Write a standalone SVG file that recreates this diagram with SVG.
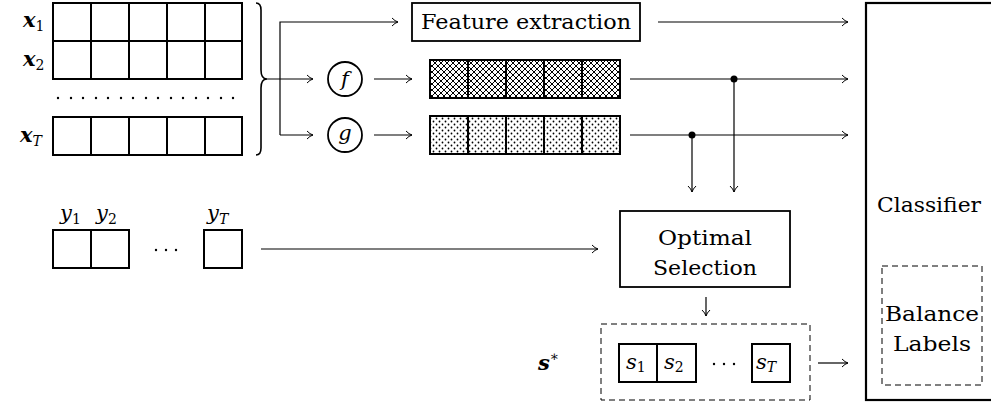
<svg xmlns="http://www.w3.org/2000/svg" width="991" height="403" viewBox="0 0 991 403">
<defs>
<marker id="ar" markerWidth="10" markerHeight="10" refX="8" refY="5" orient="auto" markerUnits="userSpaceOnUse">
<path d="M2,1 Q5,4.2 8,5 Q5,5.8 2,9" fill="none" stroke="#000" stroke-width="1"/>
</marker>
<pattern id="hatch" width="6" height="6" patternUnits="userSpaceOnUse">
<rect width="6" height="6" fill="#fff"/>
<path d="M0,0 L6,6 M6,0 L0,6" stroke="#000" stroke-width="1"/>
</pattern>
<pattern id="dots" width="6" height="6" patternUnits="userSpaceOnUse">
<rect width="6" height="6" fill="#fff"/>
<circle cx="1.5" cy="1.5" r="0.9" fill="#000"/>
<circle cx="4.5" cy="4.5" r="0.9" fill="#000"/>
</pattern>
</defs>
<style>
text{font-family:"DejaVu Serif",serif}
.t{font-size:21px}
.m{font-size:21px;font-style:italic}
.b{font-size:21px;font-style:italic;font-weight:bold}
.sub{font-size:14px}
.cell{fill:#fff;stroke:#000;stroke-width:2}
.box{fill:#fff;stroke:#000;stroke-width:1.8}
.dash{fill:none;stroke:#000;stroke-width:1;stroke-dasharray:6,4}
.arr{fill:none;stroke:#000;stroke-width:1.2;marker-end:url(#ar)}
</style>

<g id="inputs">
<text x="23" y="27" class="b">x<tspan class="sub" font-weight="normal" font-style="normal" dy="4">1</tspan></text>
<text x="23" y="66" class="b">x<tspan class="sub" font-weight="normal" font-style="normal" dy="4">2</tspan></text>
<text x="20" y="142" class="b">x<tspan class="sub" font-style="italic" font-weight="normal" dy="4">T</tspan></text>
<g>
<rect x="53" y="3" width="38" height="38" class="cell"/><rect x="91" y="3" width="38" height="38" class="cell"/><rect x="129" y="3" width="38" height="38" class="cell"/><rect x="167" y="3" width="38" height="38" class="cell"/><rect x="205" y="3" width="37" height="38" class="cell"/>
<rect x="53" y="41" width="38" height="38" class="cell"/><rect x="91" y="41" width="38" height="38" class="cell"/><rect x="129" y="41" width="38" height="38" class="cell"/><rect x="167" y="41" width="38" height="38" class="cell"/><rect x="205" y="41" width="37" height="38" class="cell"/>
<rect x="53" y="117" width="38" height="38" class="cell"/><rect x="91" y="117" width="38" height="38" class="cell"/><rect x="129" y="117" width="38" height="38" class="cell"/><rect x="167" y="117" width="38" height="38" class="cell"/><rect x="205" y="117" width="37" height="38" class="cell"/>
</g>
<g fill="#000">
<circle cx="58" cy="98" r="1.2"/><circle cx="71" cy="98" r="1.2"/><circle cx="83" cy="98" r="1.2"/><circle cx="96" cy="98" r="1.2"/><circle cx="108" cy="98" r="1.2"/><circle cx="121" cy="98" r="1.2"/><circle cx="133" cy="98" r="1.2"/><circle cx="146" cy="98" r="1.2"/><circle cx="158" cy="98" r="1.2"/><circle cx="171" cy="98" r="1.2"/><circle cx="183" cy="98" r="1.2"/><circle cx="196" cy="98" r="1.2"/><circle cx="208" cy="98" r="1.2"/><circle cx="221" cy="98" r="1.2"/><circle cx="233" cy="98" r="1.2"/>
</g>
<path d="M256,3 Q261,3 261,10 L261,70 Q261,79 267,79 Q261,79 261,88 L261,148 Q261,155 256,155" fill="none" stroke="#000" stroke-width="1.6"/>
</g>

<g id="feature-extraction">
<rect x="412" y="3" width="228" height="38" class="box"/>
<text x="526" y="29" class="t" text-anchor="middle" textLength="210" lengthAdjust="spacingAndGlyphs">Feature extraction</text>
</g>

<g id="f-node">
<circle cx="345" cy="79" r="17" class="box" stroke-width="1.5"/>
<text x="345" y="86" class="m" text-anchor="middle">f</text>
</g>
<g id="g-node">
<circle cx="345" cy="135" r="17" class="box" stroke-width="1.5"/>
<text x="345" y="140" class="m" text-anchor="middle">g</text>
</g>

<g id="f-output">
<rect x="430" y="60" width="38" height="38" class="cell" style="fill:url(#hatch)"/>
<rect x="468" y="60" width="38" height="38" class="cell" style="fill:url(#hatch)"/>
<rect x="506" y="60" width="38" height="38" class="cell" style="fill:url(#hatch)"/>
<rect x="544" y="60" width="38" height="38" class="cell" style="fill:url(#hatch)"/>
<rect x="582" y="60" width="38" height="38" class="cell" style="fill:url(#hatch)"/>
</g>
<g id="g-output">
<rect x="430" y="116" width="38" height="38" class="cell" style="fill:url(#dots)"/>
<rect x="468" y="116" width="38" height="38" class="cell" style="fill:url(#dots)"/>
<rect x="506" y="116" width="38" height="38" class="cell" style="fill:url(#dots)"/>
<rect x="544" y="116" width="38" height="38" class="cell" style="fill:url(#dots)"/>
<rect x="582" y="116" width="38" height="38" class="cell" style="fill:url(#dots)"/>
</g>

<g id="labels-y">
<text x="60" y="220" class="m">y<tspan class="sub" font-style="normal" dy="4">1</tspan></text>
<text x="96" y="220" class="m">y<tspan class="sub" font-style="normal" dy="4">2</tspan></text>
<text x="207" y="220" class="m">y<tspan class="sub" dy="4">T</tspan></text>
<rect x="53" y="230" width="38" height="38" class="cell"/>
<rect x="91" y="230" width="38" height="38" class="cell"/>
<rect x="204" y="230" width="38" height="38" class="cell"/>
<g fill="#000"><circle cx="156" cy="250" r="1.2"/><circle cx="166" cy="250" r="1.2"/><circle cx="176" cy="250" r="1.2"/></g>
</g>

<g id="optimal-selection">
<rect x="620" y="211" width="170" height="76" class="box"/>
<text x="705" y="245" class="t" text-anchor="middle" textLength="94" lengthAdjust="spacingAndGlyphs">Optimal</text>
<text x="705" y="275" class="t" text-anchor="middle" textLength="104" lengthAdjust="spacingAndGlyphs">Selection</text>
</g>

<g id="s-star">
<text x="538" y="370" class="b">s<tspan class="sub" font-weight="normal" font-style="normal" dy="-9">∗</tspan></text>
<rect x="601" y="324" width="209" height="76" class="dash"/>
<rect x="619" y="344" width="38" height="38" class="cell" stroke-width="1.6"/>
<rect x="657" y="344" width="39" height="38" class="cell" stroke-width="1.6"/>
<rect x="752" y="344" width="38" height="38" class="cell" stroke-width="1.6"/>
<text x="626" y="369" class="m">s<tspan class="sub" font-style="normal" dy="3">1</tspan></text>
<text x="664" y="369" class="m">s<tspan class="sub" font-style="normal" dy="3">2</tspan></text>
<text x="756" y="369" class="m">s<tspan class="sub" dy="3">T</tspan></text>
<g fill="#000"><circle cx="714" cy="364" r="1.2"/><circle cx="724" cy="364" r="1.2"/><circle cx="734" cy="364" r="1.2"/></g>
</g>

<g id="classifier">
<rect x="866" y="3" width="140" height="397" fill="#fff" stroke="#000" stroke-width="2.2"/>
<text x="929" y="212" class="t" text-anchor="middle" textLength="104" lengthAdjust="spacingAndGlyphs">Classifier</text>
<rect x="882" y="266" width="100" height="119" class="dash"/>
<text x="932" y="321" class="t" text-anchor="middle" textLength="94" lengthAdjust="spacingAndGlyphs">Balance</text>
<text x="932" y="351" class="t" text-anchor="middle" textLength="78" lengthAdjust="spacingAndGlyphs">Labels</text>
</g>

<g id="connectors">
<path d="M267,79 H313" class="arr"/>
<path d="M280,135 V22 H398" class="arr"/>
<path d="M280,135 H313" class="arr"/>
<path d="M374,79 H412" class="arr"/>
<path d="M374,135 H412" class="arr"/>
<path d="M658,22 H848" class="arr"/>
<path d="M630,79 H848" class="arr"/>
<path d="M630,135 H848" class="arr"/>
<circle cx="734" cy="79" r="3.5" fill="#000"/>
<circle cx="692" cy="135" r="3.5" fill="#000"/>
<path d="M734,79 V192" class="arr"/>
<path d="M692,135 V192" class="arr"/>
<path d="M261,249 H598" class="arr"/>
<path d="M706,297 V316" class="arr"/>
<path d="M818,363 H848" class="arr"/>
</g>
</svg>
